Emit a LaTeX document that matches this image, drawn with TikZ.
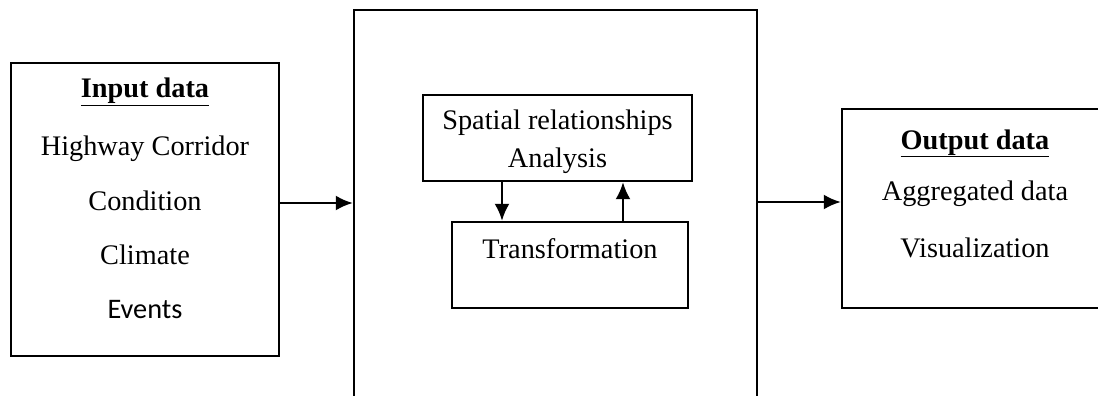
\documentclass[tikz,border=0pt]{standalone}
\usepackage{fontspec}
\setmainfont{Liberation Serif}
\newfontfamily\carlito{Carlito}
\usetikzlibrary{arrows.meta,positioning}
\tikzset{
  blk/.style={draw,line width=2.4pt,inner sep=0pt},
  flow/.style={line width=2.4pt,-{Latex[length=17pt,width=15pt]}},
  txt/.style={anchor=base,inner sep=0pt,font=\fontsize{28.3}{34}\selectfont}
}
\begin{document}
\begin{tikzpicture}[x=1pt,y=-1pt]
  \useasboundingbox (0,0) rectangle (1098,396);
  \clip (0,0) rectangle (1098,396);
  % boxes
  \node[blk,minimum width=268pt,minimum height=293pt] (inbox) at (145,209.5) {};
  \node[blk,minimum width=403pt,minimum height=400pt] (proc) at (555.5,210) {};
  \node[blk,minimum width=266pt,minimum height=199pt] (outbox) at (975,208.5) {};
  \node[blk,minimum width=269pt,minimum height=86pt] (spatial) at (557.5,138) {};
  \node[blk,minimum width=236pt,minimum height=86pt] (trans) at (570,265) {};
  % input text
  \node[txt] (intitle) at (145,98) {\textbf{\underline{Input data}}};
  \node[txt] (hwy) at (145,155) {Highway Corridor};
  \node[txt] (cond) at (145,210) {Condition};
  \node[txt] (clim) at (145,264) {Climate};
  \node[txt] (evt) at (145,318) {\carlito Events};
  % process text
  \node[txt] (sptxt) at (557.5,129) {Spatial relationships};
  \node[txt] (antxt) at (557.5,167) {Analysis};
  \node[txt] (trtxt) at (570,258) {Transformation};
  % output text
  \node[txt] (outtitle) at (975,149) {\textbf{\underline{Output data}}};
  \node[txt] (agg) at (975,200) {Aggregated data};
  \node[txt] (vis) at (975,257) {Visualization};
  % connectors
  \draw[flow] ([yshift=6.5pt]inbox.east) -- ([yshift=6.5pt]inbox.east -| proc.west);
  \draw[flow] ([yshift=6.5pt]outbox.west -| proc.east) -- ([yshift=6.5pt]outbox.west);
  \draw[flow] ([xshift=-55.5pt]spatial.south) -- ([xshift=-55.5pt]spatial.south |- trans.north);
  \draw[flow] ([xshift=65.5pt]spatial.south |- trans.north) -- ([xshift=65.5pt]spatial.south);
\end{tikzpicture}
\end{document}
